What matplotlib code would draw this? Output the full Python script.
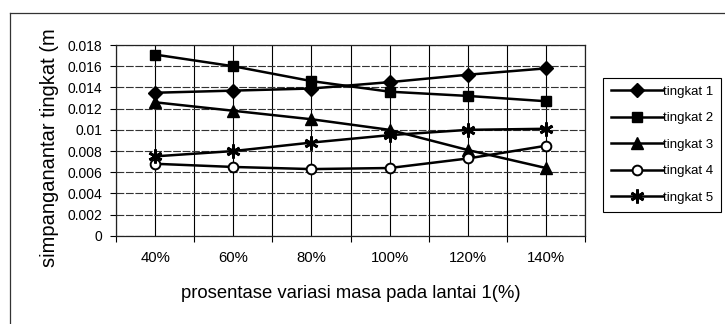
import matplotlib

matplotlib.use("Agg")

import matplotlib.pyplot as plt
from matplotlib.lines import Line2D
from matplotlib.ticker import FixedLocator, FixedFormatter

plt.rcParams["font.family"] = ["Liberation Sans", "DejaVu Sans"]

# storey drift for each mass variation on floor 1
categories = ["40%", "60%", "80%", "100%", "120%", "140%"]
tingkat_1 = [0.0135, 0.0137, 0.0139, 0.0145, 0.0152, 0.0158]
tingkat_2 = [0.0171, 0.0160, 0.0146, 0.0136, 0.0132, 0.0127]
tingkat_3 = [0.0126, 0.0118, 0.0110, 0.0100, 0.0081, 0.0064]
tingkat_4 = [0.0068, 0.0065, 0.0063, 0.0064, 0.0073, 0.0085]
tingkat_5 = [0.0075, 0.0080, 0.0088, 0.0095, 0.0100, 0.0101]
series_names = ["tingkat 1", "tingkat 2", "tingkat 3", "tingkat 4", "tingkat 5"]
y_ticks = [0, 0.002, 0.004, 0.006, 0.008, 0.01, 0.012, 0.014, 0.016, 0.018]
y_tick_labels = ["0", "0.002", "0.004", "0.006", "0.008", "0.01",
                 "0.012", "0.014", "0.016", "0.018"]

fig = plt.figure(figsize=(7.25, 3.24), dpi=100)
ax = fig.add_axes([0.16, 0.272, 0.647, 0.589])

x = list(range(len(categories)))
styles = [
    dict(marker="D", markersize=7.5, mfc="black"),
    dict(marker="s", markersize=7.5, mfc="black"),
    dict(marker="^", markersize=8.5, mfc="black"),
    dict(marker="o", markersize=7, mfc="white", mew=1.4),
    dict(marker=(6, 2, 0), markersize=10, mew=2),
]
for values, name, st in zip(
    [tingkat_1, tingkat_2, tingkat_3, tingkat_4, tingkat_5], series_names, styles
):
    ax.plot(x, values, color="black", lw=1.8, mec="black", label=name, **st)

ax.set_xlim(-0.5, len(categories) - 0.5)
ax.set_ylim(0, 0.018)

# category boundaries carry the ticks, labels sit in the middle
ax.xaxis.set_major_locator(FixedLocator([i - 0.5 for i in range(len(categories) + 1)]))
ax.xaxis.set_major_formatter(FixedFormatter([""] * (len(categories) + 1)))
ax.xaxis.set_minor_locator(FixedLocator(x))
ax.xaxis.set_minor_formatter(FixedFormatter(categories))
ax.tick_params(axis="x", which="major", direction="out", length=4, width=0.8)
ax.tick_params(axis="x", which="minor", length=0, pad=11, labelsize=10.7)

ax.yaxis.set_major_locator(FixedLocator(y_ticks))
ax.yaxis.set_major_formatter(FixedFormatter(y_tick_labels))
ax.tick_params(axis="y", direction="out", length=4, width=0.8, labelsize=10, pad=6)

ax.grid(True, which="major", axis="y", color="#333333", lw=0.8, ls=(0, (7, 1.5)))
ax.grid(True, which="both", axis="x", color="black", lw=0.8)
for side in ax.spines.values():
    side.set_linewidth(0.9)
    side.set_color("#222222")

fig.text(351 / 725, 1 - 294 / 324, "prosentase variasi masa pada lantai 1(%)",
         fontsize=13.3, ha="center", va="center")
fig.text(50 / 725, 1 - 148 / 324, "simpanganantar tingkat (m",
         fontsize=14.5, rotation=90, ha="center", va="center")

fig.legend(
    loc="upper left",
    bbox_to_anchor=(0.832, 0.76),
    fontsize=9.5,
    handlelength=3.9,
    handletextpad=0.05,
    labelspacing=1.08,
    borderpad=0.6,
    borderaxespad=0,
    fancybox=False,
    frameon=True,
    edgecolor="black",
    framealpha=1,
)
fig.legends[0].get_frame().set_linewidth(0.8)

# outer chart frame (top and left edges)
fig.add_artist(Line2D([10 / 725, 1.0], [1 - 13 / 324] * 2, color="#333333", lw=0.9))
fig.add_artist(Line2D([10 / 725] * 2, [0.0, 1 - 13 / 324], color="#333333", lw=0.9))

fig.savefig("out.png", dpi=100)
